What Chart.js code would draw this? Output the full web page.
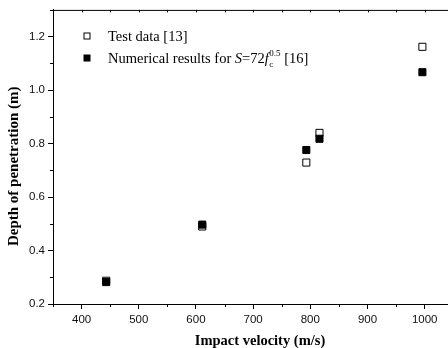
<!DOCTYPE html>
<html>
<head>
<meta charset="utf-8">
<script src="https://cdn.jsdelivr.net/npm/chart.js@4.4.1/dist/chart.umd.min.js"></script>
<style>
  html, body { margin: 0; padding: 0; background: #fff; overflow: hidden; }
  #wrap { width: 448px; height: 348px; overflow: hidden; position: relative; }
  canvas { display: block; }
</style>
</head>
<body>
<div id="wrap"><canvas id="c" width="468" height="348"></canvas></div>
<script>
// ---- data ----
const testVelocity = [443, 611, 793, 816, 996];
const testDepth    = [0.287, 0.49, 0.729, 0.840, 1.162];
const numVelocity  = [443, 611, 793, 816, 996];
const numDepth     = [0.282, 0.497, 0.776, 0.818, 1.067];

const xMajorTicks = [400, 500, 600, 700, 800, 900, 1000];
const xMinorTicks = [350, 450, 550, 650, 750, 850, 950, 1050];
const yMajorTicks = [0.2, 0.4, 0.6, 0.8, 1.0, 1.2];
const yMinorTicks = [0.3, 0.5, 0.7, 0.9, 1.1, 1.3];
const yTickLabels = ['0.2', '0.4', '0.6', '0.8', '1.0', '1.2'];

const legendLabels = ['Test data [13]', 'Numerical results for '];

const toPts = (xs, ys) => xs.map((x, i) => ({ x: x, y: ys[i] }));

const frameAndTicks = {
  id: 'frameAndTicks',
  afterDraw(chart) {
    const { ctx, chartArea: a, scales: { x, y } } = chart;
    ctx.save();
    ctx.strokeStyle = '#000';
    ctx.lineWidth = 1;
    ctx.beginPath();
    // top and right frame
    ctx.moveTo(a.left, a.top + 0.5); ctx.lineTo(a.right, a.top + 0.5);
    ctx.moveTo(a.right - 0.5, a.top); ctx.lineTo(a.right - 0.5, a.bottom);
    // minor ticks bottom / left
    xMinorTicks.forEach(v => {
      const px = Math.round(x.getPixelForValue(v)) + 0.5;
      if (px < a.left || px > a.right) return;
      ctx.moveTo(px, a.bottom); ctx.lineTo(px, a.bottom + 3);
    });
    yMinorTicks.forEach(v => {
      const py = Math.round(y.getPixelForValue(v)) + 0.5;
      if (py < a.top || py > a.bottom) return;
      ctx.moveTo(a.left, py); ctx.lineTo(a.left - 3, py);
    });
    // top axis ticks (inward)
    xMajorTicks.concat(xMinorTicks).forEach(v => {
      const px = Math.round(x.getPixelForValue(v)) + 0.5;
      if (px <= a.left || px >= a.right) return;
      ctx.moveTo(px, a.top); ctx.lineTo(px, a.top + 2.5);
    });
    ctx.stroke();

    // legend
    const sq = 7;
    const lx = 87, rows = [36, 58];
    ctx.fillStyle = '#fff';
    ctx.fillRect(lx - sq / 2, rows[0] - sq / 2, sq, sq);
    ctx.strokeRect(lx - sq / 2 + 0.5, rows[0] - sq / 2 + 0.5, sq - 1, sq - 1);
    ctx.fillStyle = '#000';
    ctx.fillRect(lx - sq / 2, rows[1] - sq / 2, sq, sq);

    const serif = '"Liberation Serif", "Times New Roman", serif';
    ctx.textBaseline = 'alphabetic';
    ctx.textAlign = 'left';
    ctx.fillStyle = '#000';
    const tx = 108;
    ctx.font = '14.5px ' + serif;
    ctx.fillText(legendLabels[0], tx, 41);
    let cx = tx;
    const b2 = 63;
    const put = (t, font, dy) => { ctx.font = font; ctx.fillText(t, cx, b2 + (dy || 0)); return ctx.measureText(t).width; };
    cx += put(legendLabels[1], '14.5px ' + serif);
    cx += put('S', 'italic 14.5px ' + serif);
    cx += put('=72', '14.5px ' + serif);
    cx += put('f', 'italic 14.5px ' + serif) + 0.5;
    const wSub = put('c', '9px ' + serif, 4);
    const wSup = put('0.5', '9px ' + serif, -7);
    cx += Math.max(wSub, wSup);
    put(' [16]', '14.5px ' + serif);
    ctx.restore();
  }
};

new Chart(document.getElementById('c'), {
  type: 'scatter',
  data: {
    datasets: [
      {
        label: 'Test data [13]',
        data: toPts(testVelocity, testDepth),
        pointStyle: 'rect',
        pointRadius: 5,
        pointHoverRadius: 5,
        backgroundColor: '#fff',
        borderColor: '#000',
        borderWidth: 1,
        order: 1
      },
      {
        label: 'Numerical results',
        data: toPts(numVelocity, numDepth),
        pointStyle: 'rect',
        pointRadius: 5,
        pointHoverRadius: 5,
        backgroundColor: '#000',
        borderColor: '#000',
        borderWidth: 1,
        order: 0
      }
    ]
  },
  options: {
    responsive: false,
    animation: false,
    events: [],
    layout: { autoPadding: false, padding: { top: 8, right: 1, left: 0, bottom: 0 } },
    plugins: { legend: { display: false }, tooltip: { enabled: false } },
    scales: {
      x: {
        type: 'linear',
        min: 350,
        max: 1074,
        afterBuildTicks: s => { s.ticks = xMajorTicks.map(v => ({ value: v })); },
        afterFit: s => { s.height = 44; },
        grid: { drawOnChartArea: false, drawTicks: true, tickLength: 5, color: '#000', tickWidth: 1 },
        border: { display: true, color: '#000', width: 1 },
        ticks: {
          padding: 4,
          color: '#111',
          maxRotation: 0,
          font: { family: '"Liberation Sans", Arial, sans-serif', size: 11.5 },
          callback: v => String(v)
        },
        title: {
          display: true,
          text: 'Impact velocity (m/s)',
          color: '#000',
          padding: { top: 0, bottom: 0 },
          font: { family: '"Liberation Serif", "Times New Roman", serif', size: 14.5, weight: 'bold', lineHeight: 1.0 }
        }
      },
      y: {
        type: 'linear',
        min: 0.2,
        max: 1.3,
        afterBuildTicks: s => { s.ticks = yMajorTicks.map(v => ({ value: v })); },
        afterFit: s => { s.width = 53; },
        grid: { drawOnChartArea: false, drawTicks: true, tickLength: 5, color: '#000', tickWidth: 1 },
        border: { display: true, color: '#000', width: 1 },
        ticks: {
          padding: 3,
          color: '#111',
          font: { family: '"Liberation Sans", Arial, sans-serif', size: 11.5 },
          callback: (v, i) => yTickLabels[i]
        },
        title: {
          display: true,
          text: 'Depth of penetration (m)     ',
          color: '#000',
          padding: { top: 5, bottom: 0 },
          font: { family: '"Liberation Serif", "Times New Roman", serif', size: 15, weight: 'bold' }
        }
      }
    }
  },
  plugins: [frameAndTicks]
});
</script>
</body>
</html>
